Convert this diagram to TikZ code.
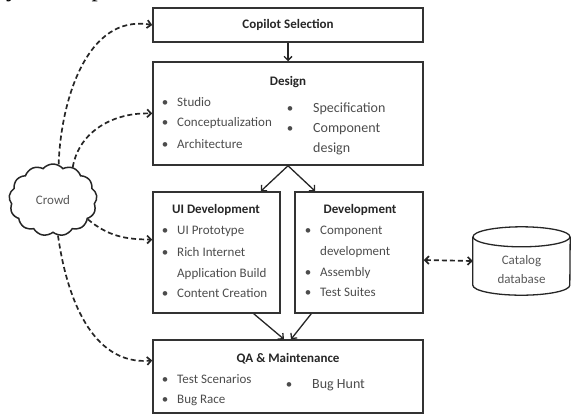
\documentclass[tikz,border=0pt]{standalone}
\usepackage{fontspec}
\setmainfont{Carlito}
\newfontfamily\pagefont{Liberation Serif}
\usetikzlibrary{shapes.geometric,shapes.symbols,arrows.meta,positioning}

\begin{document}
\begin{tikzpicture}[x=1pt,y=1pt]
\tikzstyle{box}=[draw=black!80, line width=1.5pt, inner sep=0pt]
\tikzstyle{title}=[font=\fontsize{13}{15}\selectfont\bfseries, text=black!85, anchor=base, inner sep=0pt]
\tikzstyle{entry}=[font=\fontsize{13}{15}\selectfont, text=black!70, anchor=base west, inner sep=0pt, text height=9pt, text depth=3pt]
\tikzstyle{bigentry}=[entry, font=\fontsize{14}{16}\selectfont]
\tikzstyle{bulletmark}=[font=\fontsize{13}{15}\selectfont, text=black!70, inner sep=0pt, text height=9pt, text depth=3pt]
\tikzstyle{item}=[entry, label={[bulletmark, label distance=8.5pt]left:\textbullet}]
\tikzstyle{bigitem}=[bigentry, label={[bulletmark, label distance=19.5pt]left:\textbullet}]
\tikzstyle{flow}=[draw=black!85, line width=1.3pt, -{Straight Barb[length=4pt,width=8pt]}]
\tikzstyle{dashflow}=[draw=black!85, line width=1.7pt, dash pattern=on 5pt off 3pt, -{Straight Barb[length=4pt,width=8pt]}]
\useasboundingbox (0,0) rectangle (572,-416);
\node[anchor=base west, inner sep=0pt, font=\pagefont\fontsize{25}{25}\selectfont] (pagetext) at (-1,3.5) {ty development.};
\node[box, minimum width=270pt, minimum height=34pt, font=\fontsize{13}{15}\selectfont\bfseries, text=black!85] (copilot) at (288,-25) {Copilot Selection};
\node[box, minimum width=270pt, minimum height=103pt] (design) at (288,-113.5) {};
\node[box, minimum width=127pt, minimum height=121pt] (ui) at (216.5,-252.5) {};
\node[box, minimum width=128pt, minimum height=121pt] (dev) at (359,-252.5) {};
\node[box, minimum width=270pt, minimum height=73pt] (qa) at (288,-376.5) {};
\node[cloud, draw=black!85, line width=1.5pt, cloud puffs=13, cloud puff arc=100, aspect=1.2, minimum width=88pt, minimum height=72pt, font=\fontsize{13}{15}\selectfont, text=black!65] (crowd) at (53,-200) {Crowd};
\node[minimum width=97pt, minimum height=68pt, inner sep=0pt] (db) at (521.5,-261) {};
\node[align=center, inner sep=0pt, font=\fontsize{13}{19}\selectfont, text=black!65] (dbtext) at ([yshift=-8.5pt]db.center) {Catalog\\database};

\node[title] (designtitle) at (288,-85) {Design};
\node[item] (studio) at (177,-106) {Studio};
\node[item] (concept) at (177,-126) {Conceptualization};
\node[item] (arch) at (177,-148) {Architecture};
\node[bigitem] (spec) at (313,-112) {Specification};
\node[bigitem] (compdesign) at (313,-132) {Component};
\node[bigentry] (compdesign2) at (313,-152) {design};

\node[title] (uititle) at (216,-213) {UI Development};
\node[item] (proto) at (177,-234) {UI Prototype};
\node[item] (ria) at (177,-256) {Rich Internet};
\node[entry] (ria2) at (177,-277) {Application Build};
\node[item] (content) at (177,-297) {Content Creation};

\node[title] (devtitle) at (360,-213) {Development};
\node[item] (compdev) at (320,-234) {Component};
\node[entry] (compdev2) at (320,-255) {development};
\node[item] (assembly) at (320,-276) {Assembly};
\node[item] (suites) at (320,-296) {Test Suites};

\node[title] (qatitle) at (288,-362) {QA \& Maintenance};
\node[item] (scenarios) at (177,-383) {Test Scenarios};
\node[item] (race) at (177,-403) {Bug Race};
\node[bigitem] (hunt) at (312,-388) {Bug Hunt};

\draw[black!85, line width=1.3pt] ([yshift=-10pt]db.north) ellipse (48.5pt and 10pt);
\draw[black!85, line width=1.3pt] ([yshift=-10pt]db.north west) -- ([yshift=10pt]db.south west) arc[start angle=180, end angle=360, x radius=48.5pt, y radius=10pt] -- ([yshift=-10pt]db.north east);

\draw[flow] (copilot) -- (design);
\draw[flow] (design.south) -- ([xshift=-20pt]ui.north east);
\draw[flow] (design.south) -- ([xshift=21pt]dev.north west);
\draw[flow] ([xshift=-27pt]ui.south east) -- ([xshift=-4pt]qa.north);
\draw[flow] ([xshift=17pt]dev.south west) -- ([xshift=3pt]qa.north);
\draw[dashflow] (crowd.81) to[out=88, in=170] (copilot.west);
\draw[dashflow] (crowd.59) to[out=80, in=178] (design.west);
\draw[dashflow] (crowd.-29) to[out=-40, in=180] ([yshift=13pt]ui.west);
\draw[dashflow] (crowd.-82) to[out=-82, in=185] ([yshift=16pt]qa.west);
\draw[dashflow, {Straight Barb[length=4pt,width=8pt]}-{Straight Barb[length=4pt,width=8pt]}] ([yshift=-7.5pt]dev.east) -- (db.west);

\end{tikzpicture}
\end{document}
